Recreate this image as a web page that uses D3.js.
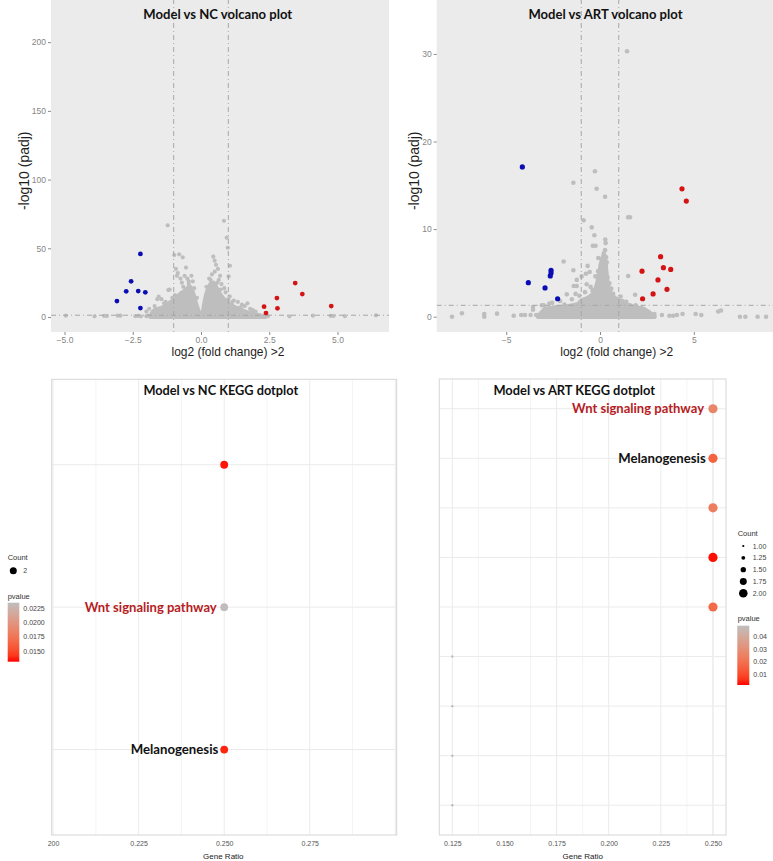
<!DOCTYPE html>
<html><head><meta charset="utf-8">
<script src="https://cdn.jsdelivr.net/npm/d3@7"></script>
<style>body{margin:0;background:#fff;} svg{display:block;}</style>
</head><body>
<svg id="c" width="773" height="861"></svg>
<script>
// ---------------- DATA ----------------
// Volcano: Model vs NC  ([log2FC, -log10 padj])
const ncUp = [[3.45,24.7],[3.71,16.7],[2.78,13.8],[2.31,7.5],[2.80,6.3],[2.38,2.9],[4.77,8.0]];
const ncDown = [[-2.22,45.9],[-2.56,26],[-2.74,18.7],[-2.30,18.9],[-2.04,18],[-3.08,11.6],[-2.22,6.5]];
const ncDense = [[-1.85,0],[-1.8,3],[-1.7,5],[-1.55,6],[-1.4,7],[-1.25,9],[-1.1,11],[-1.0,12],[-0.9,14],[-0.75,17],[-0.6,19],[-0.5,21],[-0.4,22],[-0.3,18],[-0.2,11],[-0.1,5],[0,0.5],[0.08,5],[0.15,13],[0.25,20],[0.35,24],[0.45,25],[0.55,22],[0.65,18],[0.8,14],[0.95,11],[1.1,9],[1.25,7],[1.4,6],[1.6,4],[1.8,3],[2.0,2],[2.2,1],[2.35,0]];
const ncGrey = [[-1.22,66.7],[0.84,70],[0.94,57.7],[0.98,50.4],[1.06,37.3],[1.01,29.6],
  [-0.98,45.1],[-0.8,45.6],[-0.67,43.4],[-0.92,35],[-0.88,30],[-0.85,32],[-0.55,36],[-0.75,28],[-0.6,30],[-0.5,28],[-0.45,26],[-0.7,25],[-0.35,30],[-0.3,26],[-1.15,20],[-1.2,19.6],[-1.55,14.8],[-1.6,13],[-1.45,13],[-1.35,10],[-1.7,8],[-1.9,6],[-2.0,4],
  [-0.65,22],[-0.45,24],[-0.25,21],[-0.95,16],[-1.05,14],[-1.3,11],[-0.15,14],
  [0.45,43.9],[0.5,41],[0.55,38],[0.62,35],[0.5,33],[0.4,31],[0.7,30],[0.65,27],[0.3,28],[0.75,24],[0.85,21],[0.9,18],[1.05,15],[1.2,12],[1.35,11],[1.5,9],[1.6,8],[1.7,10],[1.8,6],[1.9,5],[2.0,4],
  [0.2,22],[0.35,27],[0.6,25],[0.72,20],[1.0,13],[1.15,11],[1.45,7],
  [-4.95,1],[-3.9,0.5],[-3.55,0.8],[-3.45,0.8],[-3.05,1],[-2.95,1],[-2.4,0.6],[-2.3,0.8],[-2.2,0.5],[-2.0,0.6],[-1.95,1],[2.3,0.7],[2.45,0.5],[3.24,0.5],[4.1,1],[4.75,0.8],[4.85,0.8],[5.27,0.6],[6.41,1.2]];
const ncXTicks = [-5,-2.5,0,2.5,5];
const ncYTicks = [0,50,100,150,200];

// Volcano: Model vs ART
const artUp = [[4.37,14.6],[4.6,13.2],[3.23,6.85],[3.38,5.6],[3.77,5.4],[2.24,5.2],[3.09,4.2],[3.57,3.13],[2.83,2.6],[2.27,2.05]];
const artDown = [[-4.14,17.1],[-3.82,3.88],[-2.93,3.28],[-2.61,5.3],[-2.61,5.0],[-2.65,4.65],[-2.26,2.05]];
const artDense = [[-3.3,0],[-3.1,0.5],[-2.9,0.9],[-2.0,1.1],[-1.2,1.4],[-1.0,1.8],[-0.6,2.2],[-0.35,2.7],[-0.2,3.4],[-0.08,4.4],[0.02,5.6],[0.12,6.6],[0.22,7.0],[0.3,5.8],[0.38,4.1],[0.5,2.9],[0.7,2.3],[1.0,1.9],[1.2,1.6],[1.6,1.2],[2.3,0.9],[2.6,0.5],[2.9,0]];
const artGrey = [[1.44,30.3],[-0.27,16.6],[-1.42,15.3],[-0.18,14.6],[0.27,13.7],[1.5,11.35],[1.6,11.35],[-0.87,11.0],[-0.44,10.2],[-0.3,9.3],[-0.38,8.1],[-0.24,8.1],[0.28,8.8],[0.3,8.4],[0.27,7.6],[0.2,7.2],[0.32,6.8],[-0.09,6.7],[0.36,6.2],[-1.94,6.3],[-0.66,5.8],[-1.42,5.3],[-0.98,4.6],[-0.75,4.9],[-0.55,5.1],[-0.24,4.6],[1.5,4.65],[-0.71,3.7],[0.1,3.4],[-1.24,3.5],[-1.24,4.2],[-0.5,3.4],[-1.4,3.5],[-1.77,2.55],[1.87,2.5],[-1.3,2.6],[0.8,1.7],[1.0,1.6],[1.2,1.8],[1.4,1.7],[-3.57,1.1],[-3.57,0.8],[-3.1,1.3],[-3.0,1.3],[-2.7,1.5],[-2.55,1.6],[-2.13,1.8],[-4.6,0.1],[-4.2,0.2],[-4.0,0.2],[-3.7,0.2],[-3.4,0.2],[-7.89,0],[-7.36,0.4],[-6.17,0.3],[-6.17,0],[-5.49,0.35],[3.7,0.1],[3.9,0.1],[4.1,0.2],[4.4,0.3],[5.1,0.3],[5.4,0.2],[6.3,0.6],[6.45,0.7],[7.46,0],[7.75,0],[8.4,0],[8.85,0],[2.6,0.5],[2.9,0.3],[3.3,0.2],[-2.9,0.3],[0.05,6.0],[0.1,5.5],[0.15,6.4],[-0.1,5.2],[0.4,4.5],[0.5,3.8],[0.6,3.2],[-0.4,3.0],[1.1,2.3],[2.2,1.0],[2.4,0.8],[-2.3,1.1],[-1.9,1.4],[-1.5,2.0],[-1.1,2.4],[-0.8,2.8],[0.7,2.6],[1.6,1.3],[1.9,1.3]];
const artXTicks = [-5,0,5];
const artYTicks = [0,10,20,30];

// KEGG dotplot: Model vs NC (rows top to bottom)
const ncRows = ["row1","row2","row3"];
const ncLabels = ["","Wnt signaling pathway","Melanogenesis"];
const ncGeneRatio = [0.25,0.25,0.25];
const ncPvalue = [0.0133,0.0234,0.0136];
const ncCount = [2,2,2];
const ncRatioTicks = [0.2,0.225,0.25,0.275];
const ncRatioLabels = ["200","0.225","0.250","0.275"];
const ncPTicks = [0.0225,0.0200,0.0175,0.0150];

// KEGG dotplot: Model vs ART
const artRows = ["r1","r2","r3","r4","r5","r6","r7","r8","r9"];
const artLabels = ["Wnt signaling pathway","Melanogenesis","","","","","","",""];
const artGeneRatio = [0.25,0.25,0.25,0.25,0.25,0.125,0.125,0.125,0.125];
const artPvalue = [0.027,0.016,0.024,0.002,0.018,0.047,0.047,0.047,0.047];
const artCount = [2,2,2,2,2,1,1,1,1];
const artRatioTicks = [0.125,0.15,0.175,0.2,0.225,0.25];
const artCountLegend = [1.00,1.25,1.50,1.75,2.00];
const artPTicks = [0.04,0.03,0.02,0.01];

// ---------------- DRAW ----------------
const svg = d3.select("#c");
const SANS = "'Liberation Sans', Arial, Helvetica, sans-serif";
const TITLE = "Lato, 'Open Sans', sans-serif";
const GREY = "#bebebe";

function fit(sel, target) {
  const w = sel.node().getComputedTextLength();
  const fs = parseFloat(sel.attr("font-size"));
  sel.attr("font-size", (fs * target / w).toFixed(2));
  return sel;
}
function text(x, y, s, o) {
  const t = svg.append("text").attr("x", x).attr("y", y).text(s)
    .attr("font-family", o.family || SANS).attr("font-size", o.size || 10)
    .attr("fill", o.fill || "#000").attr("text-anchor", o.anchor || "start")
    .attr("font-weight", o.weight || "normal");
  if (o.rotate) t.attr("transform", `rotate(${o.rotate},${x},${y})`);
  if (o.width) fit(t, o.width);
  return t;
}

let clipN = 0;
function volcano(o) {
  const x = d3.scaleLinear().domain(o.xDomain).range([o.x0, o.x1]);
  const y = d3.scaleLinear().domain(o.yDomain).range([o.y1, o.y0]);
  svg.append("rect").attr("x", o.x0).attr("y", o.y0).attr("width", o.x1 - o.x0).attr("height", o.y1 - o.y0).attr("fill", "#ebebeb");
  const id = "clip" + (clipN++);
  svg.append("clipPath").attr("id", id).append("rect").attr("x", o.x0).attr("y", o.y0).attr("width", o.x1 - o.x0).attr("height", o.y1 - o.y0);
  const g = svg.append("g").attr("clip-path", `url(#${id})`);
  const area = d3.area().x(d => x(d[0])).y0(y(0)).y1(d => y(d[1])).curve(d3.curveMonotoneX);
  g.append("path").datum(o.dense).attr("d", area).attr("fill", GREY).attr("stroke", GREY)
    .attr("stroke-width", o.r * 2).attr("stroke-linejoin", "round");
  g.selectAll(null).data(o.grey).join("circle").attr("cx", d => x(d[0])).attr("cy", d => y(d[1])).attr("r", o.r).attr("fill", GREY);
  const dash = "5,3,1,3";
  [-1, 1].forEach(v => g.append("line").attr("x1", x(v)).attr("x2", x(v)).attr("y1", o.y0).attr("y2", o.y1)
    .attr("stroke", "#a6a6a6").attr("stroke-width", 1).attr("stroke-dasharray", dash));
  g.append("line").attr("x1", o.x0).attr("x2", o.x1).attr("y1", y(-Math.log10(0.05))).attr("y2", y(-Math.log10(0.05)))
    .attr("stroke", "#a6a6a6").attr("stroke-width", 1).attr("stroke-dasharray", dash);
  g.selectAll(null).data(o.down).join("circle").attr("cx", d => x(d[0])).attr("cy", d => y(d[1])).attr("r", o.r + 0.3).attr("fill", "#0c0cb4");
  g.selectAll(null).data(o.up).join("circle").attr("cx", d => x(d[0])).attr("cy", d => y(d[1])).attr("r", o.r + 0.3).attr("fill", "#d41414");

  const ax = svg.append("g").attr("transform", `translate(0,${o.y1})`)
    .call(d3.axisBottom(x).tickValues(o.xTicks).tickFormat(o.xFmt).tickSize(3).tickPadding(2));
  const ay = svg.append("g").attr("transform", `translate(${o.x0},0)`)
    .call(d3.axisLeft(y).tickValues(o.yTicks).tickFormat(d3.format("d")).tickSize(3).tickPadding(2));
  [ax, ay].forEach(a => {
    a.select(".domain").remove();
    a.selectAll(".tick line").attr("stroke", "#8a8a8a");
    a.selectAll(".tick text").attr("fill", "#858585").attr("font-size", 8.5).attr("font-family", SANS);
  });
  text(o.titleX, 18.5, o.title, {family: TITLE, weight: "bold", size: 15, anchor: "middle", width: o.titleW, fill: "#111"});
  text(o.ylabX, 170.8, "-log10 (padj)", {size: 14, anchor: "middle", rotate: -90, fill: "#1e1e1e"});
  text(o.xlabX, 355.5, "log2 (fold change) >2", {size: 14, anchor: "middle", fill: "#1e1e1e", width: 113});
}

volcano({x0: 51, x1: 389, y0: -1, y1: 332, xDomain: [-5.495, 6.886], yDomain: [-10.9, 231.4],
  dense: ncDense, grey: ncGrey, up: ncUp, down: ncDown, r: 2.1,
  xTicks: ncXTicks, yTicks: ncYTicks, xFmt: d3.format(".1f"),
  title: "Model vs NC volcano plot", titleX: 217.8, titleW: 149, ylabX: 29, xlabX: 228});
volcano({x0: 436.7, x1: 774, y0: -1, y1: 332, xDomain: [-8.705, 9.275], yDomain: [-1.747, 36.27],
  dense: artDense, grey: artGrey, up: artUp, down: artDown, r: 2.3,
  xTicks: artXTicks, yTicks: artYTicks, xFmt: d3.format("d"),
  title: "Model vs ART volcano plot", titleX: 605.5, titleW: 154, ylabX: 419.5, xlabX: 616.7});

function dotplot(o) {
  const x = d3.scaleLinear().domain(o.xDomain).range([o.x0, o.x1]);
  const y = d3.scalePoint().domain(o.rows).range([o.y0, o.y1]).padding(0.6);
  const color = d3.scaleLinear().domain(o.pDomain).range(["#ff0000", GREY]).interpolate(d3.interpolateLab).clamp(true);
  const size = d3.scaleLinear().domain([1, 2]).range([1.2, 4.6]);
  const g = svg.append("g");
  const minor = d3.range(o.xDomain[0] - 0.05, o.xDomain[1] + 0.05, 0.0125).map(v => Math.round(v / 0.0125) * 0.0125)
    .filter(v => x(v) > o.x0 + 0.5 && x(v) < o.x1 - 0.5);
  g.selectAll(null).data(minor).join("line").attr("x1", d => x(d)).attr("x2", d => x(d)).attr("y1", o.y0).attr("y2", o.y1)
    .attr("stroke", d => Math.abs(Math.round(d / 0.025) * 0.025 - d) < 1e-6 ? "#ebebeb" : "#f4f4f4").attr("stroke-width", 1);
  g.selectAll(null).data(o.rows).join("line").attr("x1", o.x0).attr("x2", o.x1).attr("y1", d => y(d)).attr("y2", d => y(d))
    .attr("stroke", "#ebebeb").attr("stroke-width", 1);
  g.append("rect").attr("x", o.x0).attr("y", o.y0).attr("width", o.x1 - o.x0).attr("height", o.y1 - o.y0)
    .attr("fill", "none").attr("stroke", "#d6d6d6").attr("stroke-width", 1);
  const data = o.rows.map((r, i) => ({r, gr: o.ratio[i], p: o.p[i], c: o.count[i], label: o.labels[i]}));
  g.selectAll(null).data(data).join("circle").attr("cx", d => x(d.gr)).attr("cy", d => y(d.r))
    .attr("r", d => o.fixedR || size(d.c)).attr("fill", d => color(d.p));
  data.forEach((d, i) => {
    if (!d.label) return;
    const lab = o.labelPos[i];
    text(lab[0], y(d.r) + 4.6, d.label, {family: TITLE, weight: "bold", size: 14, anchor: "end",
      fill: d.label.startsWith("Wnt") ? "#b61c24" : "#111", width: lab[1]});
  });
  const ax = svg.append("g").attr("transform", `translate(0,${o.y1})`)
    .call(d3.axisBottom(x).tickValues(o.ticks).tickFormat((d, i) => o.tickLabels ? o.tickLabels[i] : d3.format(".3f")(d)).tickSize(0).tickPadding(6));
  ax.select(".domain").remove();
  ax.selectAll(".tick text").attr("fill", "#555").attr("font-size", 7).attr("font-family", SANS);
  text(o.xlabX, 859, "Gene Ratio", {size: 8, anchor: "middle", fill: "#222"});
  text(o.titleX, 394.5, o.title, {family: TITLE, weight: "bold", size: 15, anchor: "middle", width: o.titleW, fill: "#111"});
  return {color, size};
}

const ncD = dotplot({x0: 51.7, x1: 396.7, y0: 379.3, y1: 835, xDomain: [0.1996, 0.3004], rows: ncRows,
  ratio: ncGeneRatio, p: ncPvalue, count: ncCount, labels: ncLabels, pDomain: [0.0131, 0.0236], fixedR: 3.9,
  labelPos: [null, [216.7, 132], [218.3, 87.7]], ticks: ncRatioTicks, tickLabels: ncRatioLabels,
  xlabX: 223.3, title: "Model vs NC KEGG dotplot", titleX: 220.8, titleW: 155});
const artD = dotplot({x0: 439.3, x1: 726, y0: 379, y1: 835, xDomain: [0.11875, 0.25625], rows: artRows,
  ratio: artGeneRatio, p: artPvalue, count: artCount, labels: artLabels, pDomain: [0.0014, 0.0488],
  labelPos: [[704, 132], [705.7, 87.4]], ticks: artRatioTicks,
  xlabX: 582.7, title: "Model vs ART KEGG dotplot", titleX: 574.2, titleW: 161.7});

// Legends
function colorbar(id, x0, x1, y0, y1, domain, ticks, fmt, color) {
  const grad = svg.append("defs").append("linearGradient").attr("id", id).attr("x1", 0).attr("x2", 0).attr("y1", 1).attr("y2", 0);
  d3.range(0, 1.0001, 0.1).forEach(t => grad.append("stop").attr("offset", t)
    .attr("stop-color", color(domain[0] + t * (domain[1] - domain[0]))));
  svg.append("rect").attr("x", x0).attr("y", y0).attr("width", x1 - x0).attr("height", y1 - y0).attr("fill", `url(#${id})`);
  const s = d3.scaleLinear().domain(domain).range([y1, y0]);
  ticks.forEach(v => text(x1 + 4, s(v) + 2.5, fmt(v), {size: 7, fill: "#444"}));
}
// NC legend
text(7.7, 560, "Count", {size: 7.5, fill: "#333"});
svg.append("circle").attr("cx", 13.3).attr("cy", 570.7).attr("r", 3.5).attr("fill", "#000");
text(23.3, 573.2, "2", {size: 7, fill: "#444"});
text(7.7, 598.8, "pvalue", {size: 7.5, fill: "#333"});
colorbar("gNC", 7.7, 19.3, 602.7, 661.7, [0.0131, 0.0236], ncPTicks, d3.format(".4f"), ncD.color);
// ART legend
text(737.7, 535.5, "Count", {size: 7.5, fill: "#333"});
const legY = d3.scaleLinear().domain([1, 2]).range([546, 593.3]);
artCountLegend.forEach(c => {
  svg.append("circle").attr("cx", 743.3).attr("cy", legY(c)).attr("r", artD.size(c) * 0.93).attr("fill", "#000");
  text(752.7, legY(c) + 2.5, d3.format(".2f")(c), {size: 7, fill: "#444"});
});
text(737.7, 621, "pvalue", {size: 7.5, fill: "#333"});
colorbar("gART", 737.3, 749.3, 625.7, 685, [0.0014, 0.0488], artPTicks, d3.format(".2f"), artD.color);
</script>
</body></html>
